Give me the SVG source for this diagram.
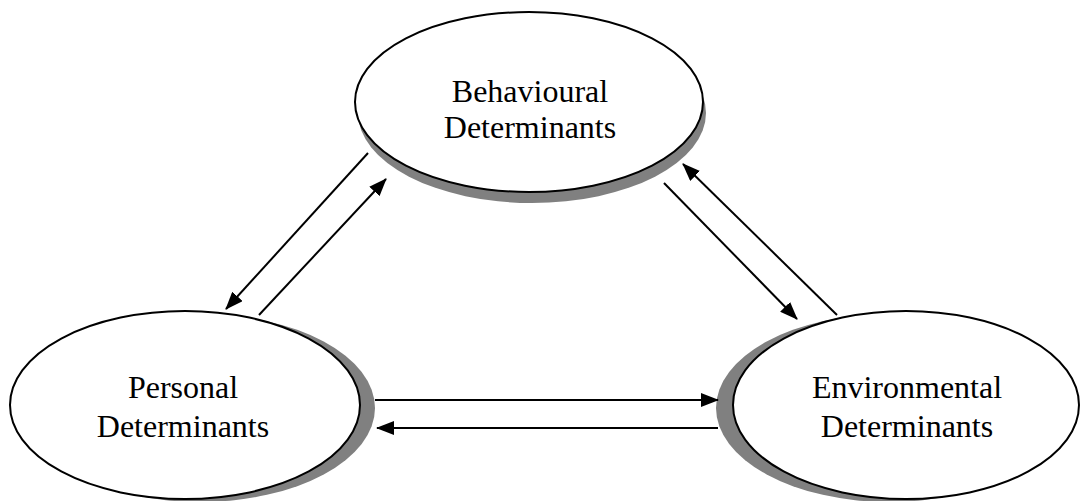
<svg xmlns="http://www.w3.org/2000/svg" width="1080" height="501" viewBox="0 0 1080 501">
<style>
.shadow{fill:#808080;stroke:none}
.node{fill:#fff;stroke:#000;stroke-width:2}
.label{font-family:"Liberation Serif","Times New Roman",serif;font-size:32px;fill:#000;text-anchor:middle}
.conn{stroke:#000;stroke-width:2;fill:none;marker-end:url(#arr)}
</style>
<defs>
<marker id="arr" viewBox="0 0 18 14" refX="17" refY="7" markerWidth="18" markerHeight="14" markerUnits="userSpaceOnUse" orient="auto">
<path d="M0,0 L18,7 L0,14 Z" fill="#000"/>
</marker>
</defs>
<rect width="1080" height="501" fill="#fff"/>
<g id="behavioural">
<ellipse class="shadow" cx="532" cy="113" rx="174" ry="90"/>
<ellipse class="node" cx="529" cy="102" rx="174" ry="90"/>
<text class="label" x="530" y="102">Behavioural</text>
<text class="label" x="530" y="138">Determinants</text>
</g>
<g id="personal">
<ellipse class="shadow" cx="200" cy="408" rx="175" ry="94"/>
<ellipse class="node" cx="185" cy="405" rx="175" ry="94"/>
<text class="label" x="183" y="398">Personal</text>
<text class="label" x="183" y="437">Determinants</text>
</g>
<g id="environmental">
<ellipse class="shadow" cx="889" cy="408" rx="173" ry="94"/>
<ellipse class="node" cx="906" cy="405" rx="173" ry="94"/>
<text class="label" x="907" y="398">Environmental</text>
<text class="label" x="907" y="437">Determinants</text>
</g>
<g id="connectors">
<line class="conn" x1="368" y1="153" x2="226" y2="309"/>
<line class="conn" x1="259" y1="315" x2="386" y2="179"/>
<line class="conn" x1="664" y1="183" x2="797" y2="319"/>
<line class="conn" x1="837" y1="315" x2="683" y2="164"/>
<line class="conn" x1="375" y1="400" x2="718" y2="400"/>
<line class="conn" x1="718" y1="428" x2="377" y2="428"/>
</g>
</svg>
